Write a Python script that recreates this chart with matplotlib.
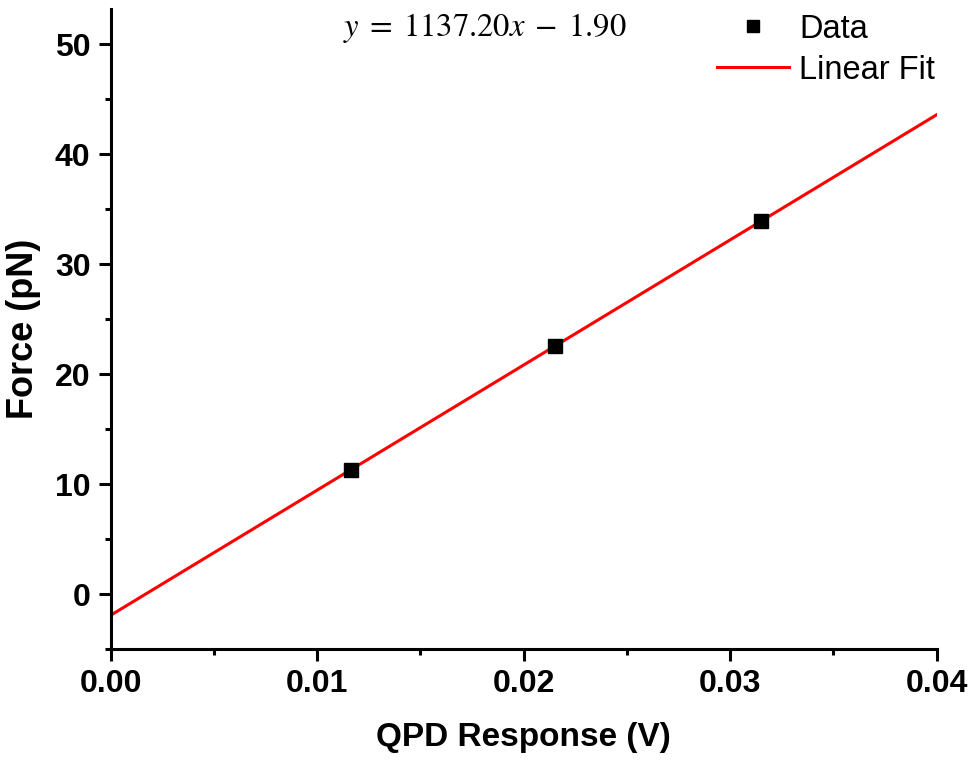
import matplotlib
matplotlib.use('Agg')

import numpy as np
import matplotlib.pyplot as plt
from matplotlib import ticker

plt.rcParams.update({
    "font.family": ["Liberation Sans", "DejaVu Sans"],
    "mathtext.fontset": "stix",
})

# calibration data
qpd_volts = [0.01164, 0.0215, 0.0315]
force_pn = [11.3, 22.6, 33.9]

slope = 1137.20
intercept = -1.90
fit_x = [0.0, 0.04]

fig = plt.figure(figsize=(9.74, 7.73), dpi=100)
ax = fig.add_axes([0.1137, 0.160, 0.8480, 0.8284])

fx = np.array(fit_x)
ax.plot(fx, slope * fx + intercept, color='#ff0000', lw=2.2, label='Linear Fit', zorder=2)
ax.plot(qpd_volts, force_pn, 's', color='black', ms=10, label='Data', zorder=3)

ax.set_xlim(0, 0.04)
ax.set_ylim(-5, 53.2)

for s in ['top', 'right']:
    ax.spines[s].set_visible(False)
for s in ['left', 'bottom']:
    ax.spines[s].set_linewidth(2.2)

ax.xaxis.set_major_locator(ticker.MultipleLocator(0.01))
ax.xaxis.set_minor_locator(ticker.MultipleLocator(0.005))
ax.xaxis.set_major_formatter(ticker.FormatStrFormatter('%.2f'))
ax.yaxis.set_major_locator(ticker.FixedLocator([0, 10, 20, 30, 40, 50]))
ax.yaxis.set_minor_locator(ticker.FixedLocator([-5, 5, 15, 25, 35, 45]))

ax.tick_params(which='major', direction='out', length=8.5, width=2.2, labelsize=23, pad=6)
ax.tick_params(which='minor', direction='out', length=4.5, width=2.2)
for lab in ax.get_xticklabels() + ax.get_yticklabels():
    lab.set_fontweight('bold')

ax.set_xlabel('QPD Response (V)', fontsize=24, fontweight='bold', labelpad=16)
ax.set_ylabel('Force (pN)', fontsize=26, fontweight='bold', labelpad=10)

fig.text(0.352, 0.964, r'$y\;=\;1137.20x\;-\;1.90$', fontsize=23.5, va='center', ha='left')

handles, labels = ax.get_legend_handles_labels()
leg = ax.legend(handles[::-1], labels[::-1], loc='upper right', bbox_to_anchor=(0.99, 1.02),
                bbox_transform=fig.transFigure, frameon=False, fontsize=23.5,
                handlelength=2.2, handletextpad=0.3, labelspacing=0.3, markerscale=0.8)

fig.savefig('out.png', dpi=100)
